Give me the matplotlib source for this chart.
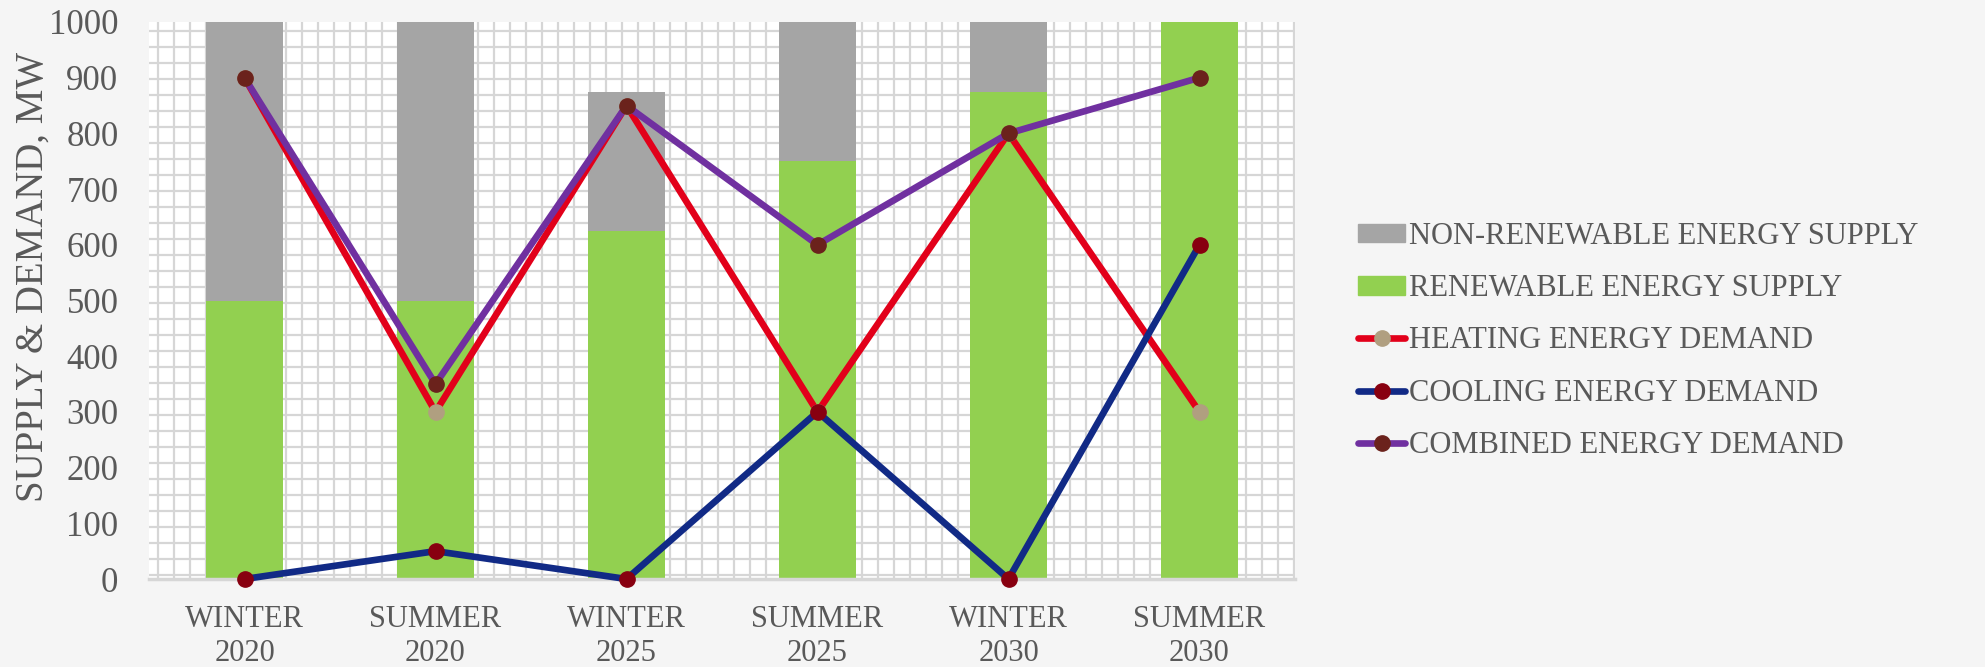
import matplotlib
matplotlib.use("Agg")
import matplotlib.pyplot as plt
import numpy as np
from matplotlib.patches import Patch
from matplotlib.lines import Line2D

categories = ["WINTER\n2020", "SUMMER\n2020", "WINTER\n2025", "SUMMER\n2025", "WINTER\n2030", "SUMMER\n2030"]
renewable = [500, 500, 625, 750, 875, 1000]
non_renewable = [500, 500, 250, 250, 125, 0]
heating = [900, 300, 850, 300, 800, 300]
cooling = [0, 50, 0, 300, 0, 600]
combined = [900, 350, 850, 600, 800, 900]
yticks = [0, 100, 200, 300, 400, 500, 600, 700, 800, 900, 1000]

TEXT = "#595959"
plt.rcParams['font.family'] = ['Liberation Serif', 'DejaVu Serif']

W, H = 1985, 667
fig = plt.figure(figsize=(W / 100, H / 100), dpi=100)
fig.patch.set_facecolor("#F5F5F5")
L, R, T, B = 149, 1295, 22, 579
ax = fig.add_axes([L / W, 1 - B / H, (R - L) / W, (B - T) / H])
ax.set_facecolor("white")

# background grid pattern (fixed pixel spacing of the picture fill)
pw, ph = R - L, B - T
for px in np.arange(9, pw + 1, 16.0):
    ax.plot([px / pw, px / pw], [0, 1], transform=ax.transAxes, color="#D6D6D6", lw=1.6, zorder=0.5)
for py in np.arange(9, ph, 16.0):
    ax.plot([0, 1], [1 - py / ph, 1 - py / ph], transform=ax.transAxes, color="#D6D6D6", lw=1.6, zorder=0.5)

x = np.arange(len(categories))
bw = 0.40
ax.bar(x, renewable, bw, color="#92D050", zorder=2)
ax.bar(x, non_renewable, bw, bottom=renewable, color="#A5A5A5", zorder=2)

lw, ms = 4.8, 11
ax.plot(x, heating, color="#E2001A", lw=lw, marker="o", ms=ms, mfc="#B09F80", mec="#B09F80", zorder=4, clip_on=False)
ax.plot(x, cooling, color="#112A86", lw=lw, marker="o", ms=ms, mfc="#880010", mec="#880010", zorder=4, clip_on=False)
ax.plot(x, combined, color="#7030A0", lw=lw, marker="o", ms=ms, mfc="#6B221C", mec="#6B221C", zorder=4, clip_on=False)

ax.set_xlim(-0.5, len(categories) - 0.5)
ax.set_ylim(0, 1000)
ax.set_yticks(yticks)
ax.set_xticks(x)
ax.set_xticklabels(categories, fontsize=22, color=TEXT, linespacing=1.2)
ax.set_yticklabels([str(v) for v in yticks], fontsize=25, color=TEXT)
ax.tick_params(axis="both", length=0)
ax.tick_params(axis="y", pad=22)
ax.tick_params(axis="x", pad=19)
for s in ["top", "right", "left"]:
    ax.spines[s].set_visible(False)
ax.spines["bottom"].set_color("#D6D6D6")
ax.spines["bottom"].set_linewidth(2.5)
ax.spines["bottom"].set_zorder(3)

fig.text(33 / W, 1 - 277 / H, "SUPPLY & DEMAND, MW", rotation=90, fontsize=28, color=TEXT,
         ha="center", va="center")

handles = [
    Patch(color="#A5A5A5"),
    Patch(color="#92D050"),
    Line2D([], [], color="#E2001A", lw=lw, marker="o", ms=ms, mfc="#B09F80", mec="#B09F80", solid_capstyle="round"),
    Line2D([], [], color="#112A86", lw=lw, marker="o", ms=ms, mfc="#880010", mec="#880010", solid_capstyle="round"),
    Line2D([], [], color="#7030A0", lw=lw, marker="o", ms=ms, mfc="#6B221C", mec="#6B221C", solid_capstyle="round"),
]
labels = ["NON-RENEWABLE ENERGY SUPPLY", "RENEWABLE ENERGY SUPPLY", "HEATING ENERGY DEMAND",
          "COOLING ENERGY DEMAND", "COMBINED ENERGY DEMAND"]
leg = fig.legend(handles, labels, loc="upper left", bbox_to_anchor=(1358 / W, 1 - 222 / H),
                 frameon=False, fontsize=22, labelcolor=TEXT, handlelength=1.55, handleheight=0.55,
                 handletextpad=0.12, labelspacing=0.76, borderaxespad=0, borderpad=0)

fig.savefig("out.png", dpi=100, facecolor=fig.get_facecolor())
